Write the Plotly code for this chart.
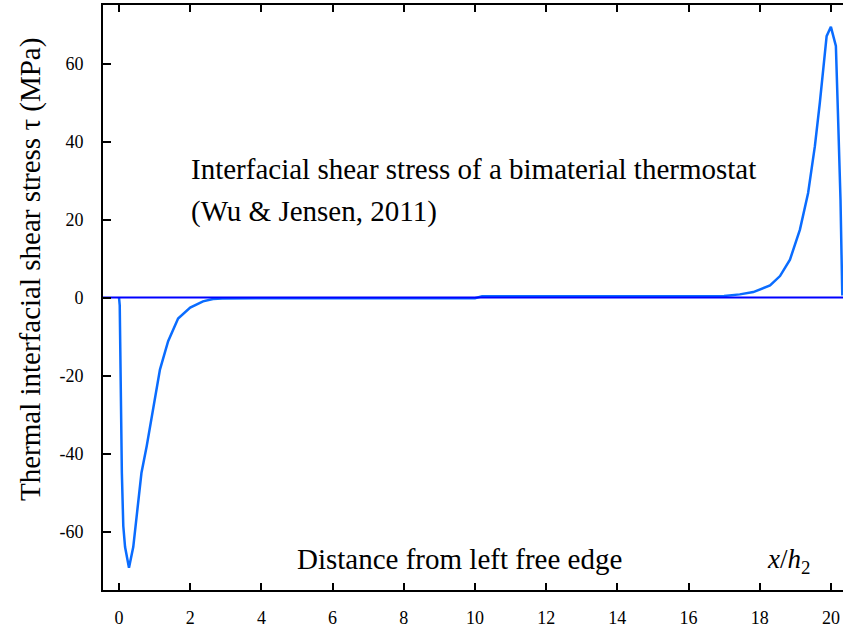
import plotly.graph_objects as go

# Thermal interfacial shear stress curve (x/h2, MPa)
x_vals = [0.0, 0.02, 0.08, 0.12, 0.17, 0.28, 0.40, 0.52, 0.63, 0.78, 0.92, 1.15, 1.38, 1.66, 2.0, 2.36, 2.64, 2.9,
          4.0, 6.0, 8.0, 10.0, 10.2, 12.0, 14.0, 16.0, 17.0, 17.44, 17.82, 18.29, 18.57, 18.85, 19.13,
          19.36, 19.55, 19.69, 19.88, 20.0, 20.14, 20.2, 20.27, 20.32]
tau_vals = [0.0, -2.0, -45.0, -58.6, -64.0, -69.3, -64.0, -54.0, -45.0, -38.0, -31.0, -18.5, -11.2, -5.4, -2.6, -1.0, -0.4, -0.25,
            -0.2, -0.2, -0.2, -0.2, 0.3, 0.3, 0.3, 0.3, 0.4, 0.8, 1.4, 3.1, 5.5, 9.7, 17.4,
            26.8, 38.8, 50.0, 67.0, 69.4, 64.5, 46.6, 25.0, 0.5]

zero_x = [-0.45, 20.34]
zero_y = [0, 0]

x_ticks = [0, 2, 4, 6, 8, 10, 12, 14, 16, 18, 20]
y_ticks = [-60, -40, -20, 0, 20, 40, 60]
y_tick_text = ["-60", "-40", "-20", "0", "20", "40", "60"]

font_fam = "Liberation Serif, Times New Roman, serif"

fig = go.Figure()
fig.add_trace(go.Scatter(x=x_vals, y=tau_vals, mode="lines",
                         line=dict(color="#0a6cff", width=2.5), showlegend=False))
fig.add_trace(go.Scatter(x=zero_x, y=zero_y, mode="lines",
                         line=dict(color="#0000ff", width=2), hoverinfo="skip", showlegend=False))

fig.update_layout(
    width=843, height=634,
    margin=dict(l=103, r=0, t=5, b=44),
    paper_bgcolor="white", plot_bgcolor="white",
    font=dict(family=font_fam, size=18, color="black"),
    xaxis=dict(range=[-0.45, 20.34], tickvals=x_ticks, ticks="inside", ticklen=7, tickwidth=2,
               tickcolor="black", showline=True, linecolor="black", linewidth=2, mirror="ticks",
               showgrid=False, zeroline=False, ticklabelstandoff=10),
    yaxis=dict(range=[-75, 75], tickvals=y_ticks, ticktext=y_tick_text, ticks="inside", ticklen=8,
               tickwidth=2, tickcolor="black", showline=True, linecolor="black", linewidth=2,
               mirror=False, showgrid=False, zeroline=False, ticklabelstandoff=14),
    annotations=[
        dict(text="Thermal interfacial shear stress τ (MPa)", x=31, y=270,
             showarrow=False, textangle=-90, xanchor="center", yanchor="middle", font=dict(size=29)),
        dict(text="Interfacial shear stress of a bimaterial thermostat", x=189, y=169,
             showarrow=False, xanchor="left", yanchor="middle", font=dict(size=29)),
        dict(text="(Wu &amp; Jensen, 2011)", x=189, y=212,
             showarrow=False, xanchor="left", yanchor="middle", font=dict(size=29)),
        dict(text="Distance from left free edge", x=459, y=559,
             showarrow=False, xanchor="center", yanchor="middle", font=dict(size=29)),
        dict(text="<i>x</i>/<i>h</i><sub>2</sub>", x=788, y=561,
             showarrow=False, xanchor="center", yanchor="middle", font=dict(size=27)),
    ],
)

# convert pixel-based annotation positions to paper coordinates
pw, ph = 843 - 103, 634 - 5 - 44
for a in fig.layout.annotations:
    a.x = (a.x - 103) / pw
    a.y = (634 - 44 - a.y) / ph
    a.xref = "paper"
    a.yref = "paper"

fig.write_html("out.html")
